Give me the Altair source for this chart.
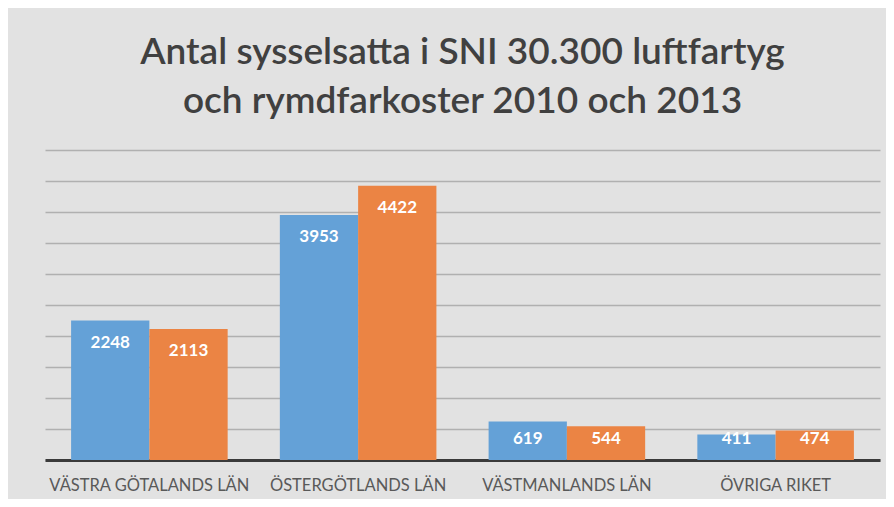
import altair as alt
import pandas as pd

regions = ["VÄSTRA GÖTALANDS LÄN", "ÖSTERGÖTLANDS LÄN", "VÄSTMANLANDS LÄN", "ÖVRIGA RIKET"]
years = ["2010", "2013"]
values_2010 = [2248, 3953, 619, 411]
values_2013 = [2113, 4422, 544, 474]
y_ticks = [0, 500, 1000, 1500, 2000, 2500, 3000, 3500, 4000, 4500, 5000]
title_lines = ["Antal sysselsatta i SNI 30.300 luftfartyg", "och rymdfarkoster 2010 och 2013"]
bar_colors = ["#64a1d7", "#eb8444"]

rows = []
for r, a, b in zip(regions, values_2010, values_2013):
    rows.append({"region": r, "year": years[0], "value": a})
    rows.append({"region": r, "year": years[1], "value": b})
df = pd.DataFrame(rows)

x_enc = alt.X(
    "region:N",
    sort=regions,
    scale=alt.Scale(paddingInner=0.25, paddingOuter=0.125),
    axis=alt.Axis(
        title=None, labelAngle=0, ticks=False, grid=False,
        domainColor="#3a3a3a", domainWidth=3,
        labelColor="#595959", labelFont="Lato", labelFontSize=16.5,
        labelPadding=17, labelLimit=0,
    ),
)
xoff_enc = alt.XOffset("year:N", sort=years, scale=alt.Scale(paddingInner=0, paddingOuter=0))
y_scale = alt.Scale(domain=[0, 5000], nice=False)
y_axis = alt.Axis(values=y_ticks, labels=False, ticks=False, domain=False, title=None,
                  gridColor="#b0b0b0", gridWidth=1.5)

base = alt.Chart(df)

bars = base.mark_bar().encode(
    x=x_enc,
    xOffset=xoff_enc,
    y=alt.Y("value:Q", scale=y_scale, axis=y_axis),
    color=alt.Color("year:N", scale=alt.Scale(domain=years, range=bar_colors), legend=None),
)

labels = base.transform_calculate(
    labelpos="max(datum.value - 355, 339)"
).mark_text(
    color="white", font="Lato", fontWeight="bold", fontSize=17, baseline="middle"
).encode(
    x=x_enc,
    xOffset=xoff_enc,
    y=alt.Y("labelpos:Q", scale=y_scale, axis=y_axis),
    text=alt.Text("value:Q"),
)

chart = alt.layer(bars, labels).properties(
    width=835,
    height=310,
    title=alt.TitleParams(
        title_lines, font="Lato", fontSize=37, fontWeight=600, color="#404040",
        lineHeight=49, anchor="middle", offset=29,
    ),
    autosize=alt.AutoSizeParams(type="none"),
    padding={"left": 37, "top": 142, "right": 6, "bottom": 39},
).configure(
    background="#e2e2e2",
).configure_view(
    stroke=None,
)

chart.save("out.html", embed_options={"renderer": "svg", "actions": False})
